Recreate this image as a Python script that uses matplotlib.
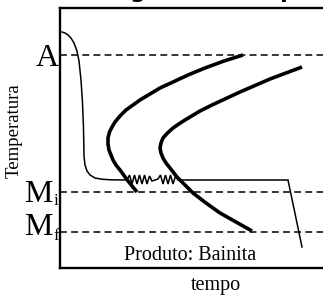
#!/usr/bin/env python3
# Diagrama TTT com tratamento isotérmico (bainita) — recriação do esquema
import numpy as np
import matplotlib
matplotlib.use('Agg')
import matplotlib.pyplot as plt

# níveis de temperatura (unidades arbitrárias)
T_A = 213
T_MI = 76
T_MF = 36

# curva de resfriamento (tempo, temperatura)
resf_t = [2, 5, 8, 11, 14, 17, 19, 21, 22.5, 23.5, 24, 25, 27, 30, 35, 42, 50, 67]
resf_T = [236, 235, 233, 230, 225, 217, 207, 188, 165, 140, 112, 103, 97, 93, 90, 88.8, 88.2, 88]
# trecho serrilhado durante a transformação
zig_t = [67, 69.5, 72, 74.5, 77, 79.5, 82, 84.5, 87, 89.5, 92, 95, 98, 100.5, 103, 105.5, 108, 110.5, 113, 115.5, 118]
zig_T = [88, 93, 84, 93, 84, 93, 84, 93, 84, 92, 87, 88, 89, 93, 84, 93, 84, 93, 84, 92, 88]
fim_t = [118, 228, 242]
fim_T = [88, 88, 21]

# curva de início da transformação
ini_t = [183, 164, 145, 128, 113, 100, 90, 80, 73, 66, 60, 55, 52, 49.5, 48, 48, 49, 51, 53, 56, 60, 64, 68, 72.5, 77]
ini_T = [213, 207, 200, 193, 186, 180, 174, 168, 163, 158, 152, 146, 141, 136, 130, 124, 118, 113, 108, 103, 98, 92.5, 87, 81.5, 76]
# curva de fim da transformação
fin_t = [242, 226, 210, 195, 180, 166, 152, 140, 130, 121, 113, 107.5, 103, 101, 100, 101, 103, 106, 110, 113.5, 117, 125, 133, 146, 160, 176, 192]
fin_T = [201, 195, 189, 182.5, 176, 169.5, 163, 157, 151, 145.5, 140, 135, 130, 125, 120, 115, 110, 105, 100, 95.5, 91, 83, 75, 65, 55, 46, 37]

W, H = 323, 298
fig = plt.figure(figsize=(W / 100, H / 100), dpi=100)
ax = fig.add_axes([60 / W, 30 / H, 275 / W, 260 / H])
ax.set_xlim(0, 275)
ax.set_ylim(0, 260)
ax.set_xticks([])
ax.set_yticks([])
for s in ['left', 'bottom', 'top']:
    ax.spines[s].set_linewidth(1.7)
ax.spines['right'].set_visible(False)

serif = 'Liberation Serif'

for lvl in [T_A, T_MI, T_MF]:
    ax.axhline(lvl, color='black', lw=1.1, dashes=(4.5, 2.8))

t_all = np.concatenate([resf_t, zig_t[1:], fim_t[1:]])
T_all = np.concatenate([resf_T, zig_T[1:], fim_T[1:]])
ax.plot(t_all, T_all, color='black', lw=1.1, solid_joinstyle='miter')

ax.plot(ini_t, ini_T, color='black', lw=2.6, solid_capstyle='butt', solid_joinstyle='round')
ax.plot(fin_t, fin_T, color='black', lw=2.6, solid_capstyle='butt', solid_joinstyle='round')

# rótulos dos níveis
ax.text(-1, 202, 'A', family=serif, fontsize=23, ha='right', va='baseline', clip_on=False)
ax.text(-7, 66, 'M', family=serif, fontsize=23, ha='right', va='baseline', clip_on=False)
ax.text(-6.5, 63, 'i', family=serif, fontsize=12, ha='left', va='baseline', clip_on=False)
ax.text(-7, 33, 'M', family=serif, fontsize=23, ha='right', va='baseline', clip_on=False)
ax.text(-6.5, 28, 'f', family=serif, fontsize=12, ha='left', va='baseline', clip_on=False)

ax.text(130, 8, 'Produto: Bainita', family=serif, fontsize=14.5, ha='center', va='baseline')
ax.text(156, -22, 'tempo', family=serif, fontsize=14.5, ha='center', va='baseline', clip_on=False)
fig.text(14 / W, 1 - 131 / H, 'Temperatura', family=serif, fontsize=13.5,
         rotation=90, ha='center', va='center')

# título (cortado no topo da imagem)
prefixo = 'Tratamento isotérmico no '
titulo = prefixo + 'diagrama de equilíbrio'
r = fig.canvas.get_renderer()
tmp = fig.text(0, 0, prefixo, fontsize=16, fontweight='bold')
wpre = tmp.get_window_extent(renderer=r).width
tmp.remove()
fig.text((92 - wpre) / W, 1 + 1.5 / H, titulo, fontsize=16, fontweight='bold',
         ha='left', va='baseline')

fig.savefig('out.png', dpi=100)
